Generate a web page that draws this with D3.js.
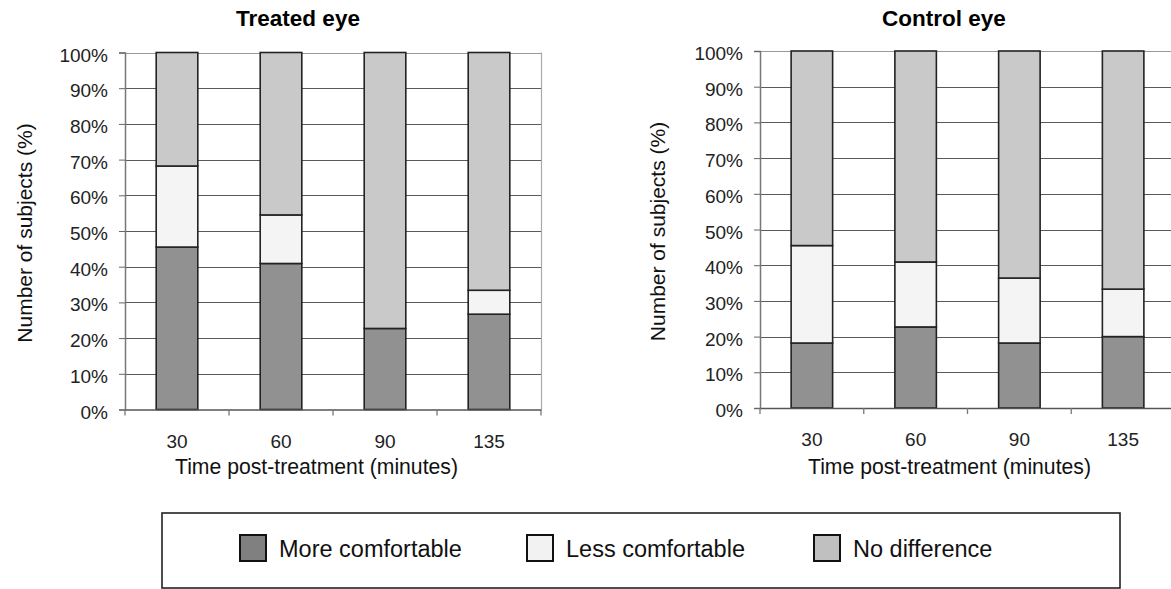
<!DOCTYPE html>
<html>
<head>
<meta charset="utf-8">
<script src="https://cdn.jsdelivr.net/npm/d3@7"></script>
<style>
  html, body { margin: 0; padding: 0; background: #fff; }
  svg { display: block; font-family: "Liberation Sans", Arial, sans-serif; }
</style>
</head>
<body>
<svg id="chart" width="1171" height="589"></svg>
<script>
// ---- data ----
const categories = ["30", "60", "90", "135"];
const seriesNames = ["More comfortable", "Less comfortable", "No difference"];
const treatedMore   = [45.5, 40.9, 22.7, 26.7];
const treatedLess   = [22.7, 13.6, 0.0, 6.7];
const treatedNoDiff = [31.8, 45.5, 77.3, 66.6];
const controlMore   = [18.2, 22.7, 18.2, 20.0];
const controlLess   = [27.3, 18.2, 18.2, 13.3];
const controlNoDiff = [54.5, 59.1, 63.6, 66.7];
const yTicks = [0, 10, 20, 30, 40, 50, 60, 70, 80, 90, 100];
const panelTitles = ["Treated eye", "Control eye"];
const xTitle = "Time post-treatment (minutes)";
const yTitle = "Number of subjects (%)";

const barColors = ["#919191", "#f4f4f4", "#c9c9c9"];
const legendColors = ["#808080", "#f2f2f2", "#c0c0c0"];

const svg = d3.select("#chart");

const panels = [
  { title: panelTitles[0], more: treatedMore, less: treatedLess, nod: treatedNoDiff,
    x0: 125, x1: 541, y0: 409.5, y1: 52.5, titleX: 298, yTitleX: 32, xTitleX: 175, rightBorder: true },
  { title: panelTitles[1], more: controlMore, less: controlLess, nod: controlNoDiff,
    x0: 760, x1: 1175, y0: 408, y1: 51, titleX: 944, yTitleX: 665, xTitleX: 808, rightBorder: false }
];

panels.forEach(p => {
  const rows = categories.map((c, i) => ({ cat: c, m: p.more[i], l: p.less[i], n: p.nod[i] }));
  const stack = d3.stack().keys(["m", "l", "n"])(rows);

  const x = d3.scaleBand().domain(categories).range([p.x0, p.x1]).paddingInner(0.6).paddingOuter(0.3);
  const y = d3.scaleLinear().domain([0, 100]).range([p.y0, p.y1]);

  const g = svg.append("g");

  // gridlines
  g.append("g").selectAll("line").data(yTicks.filter(d => d > 0)).join("line")
    .attr("x1", p.x0).attr("x2", p.x1)
    .attr("y1", d => Math.round(y(d)) + 0.5).attr("y2", d => Math.round(y(d)) + 0.5)
    .attr("stroke", d => d === 100 ? "#9a9a9a" : "#5a5a5a").attr("stroke-width", 1);

  if (p.rightBorder) {
    g.append("line").attr("x1", p.x1 + 0.5).attr("x2", p.x1 + 0.5)
      .attr("y1", y(100)).attr("y2", y(0)).attr("stroke", "#aaaaaa").attr("stroke-width", 1.2);
  }

  // y axis
  const yAxis = g.append("g").attr("transform", `translate(${p.x0},0)`)
    .call(d3.axisLeft(y).tickValues(yTicks).tickFormat(d => d + "%").tickSize(6).tickPadding(11));
  yAxis.select(".domain").attr("stroke", "#777").attr("stroke-width", 1.5);
  yAxis.selectAll(".tick line").attr("stroke", "#666");
  yAxis.selectAll(".tick text").attr("font-size", 19).attr("fill", "#222").attr("dy", "0.45em")
    .attr("font-family", "Liberation Sans, Arial, sans-serif");

  // bars
  g.append("g").selectAll("g").data(stack).join("g")
    .attr("fill", (d, i) => barColors[i])
    .selectAll("rect").data(d => d).join("rect")
    .attr("x", d => x(d.data.cat))
    .attr("width", x.bandwidth())
    .attr("y", d => y(d[1]))
    .attr("height", d => y(d[0]) - y(d[1]))
    .attr("stroke", "#222").attr("stroke-width", 1.6);

  // x axis
  const xAxis = g.append("g").attr("transform", `translate(0,${p.y0})`)
    .call(d3.axisBottom(x).tickSize(0).tickPadding(25));
  xAxis.select(".domain").attr("stroke", "#555").attr("stroke-width", 1.5);
  xAxis.selectAll(".tick text").attr("font-size", 19).attr("fill", "#222")
    .attr("font-family", "Liberation Sans, Arial, sans-serif");
  // boundary tick marks
  const bounds = d3.range(categories.length + 1).map(i => p.x0 + i * x.step());
  g.append("g").selectAll("line").data(bounds).join("line")
    .attr("x1", d => d).attr("x2", d => d)
    .attr("y1", p.y0).attr("y2", p.y0 + 6)
    .attr("stroke", "#777").attr("stroke-width", 1.3);

  // titles
  g.append("text").attr("x", p.titleX).attr("y", 26).attr("text-anchor", "middle")
    .attr("font-size", 22.5).attr("font-weight", "bold").attr("fill", "#000").text(p.title);
  g.append("text").attr("x", p.xTitleX).attr("y", 474).attr("font-size", 21.2)
    .attr("fill", "#111").text(xTitle);
  g.append("text").attr("transform", `translate(${p.yTitleX},${(p.y0 + p.y1) / 2 + 2}) rotate(-90)`)
    .attr("text-anchor", "middle").attr("font-size", 21).attr("fill", "#111").text(yTitle);
});

// legend
const lg = svg.append("g");
lg.append("rect").attr("x", 162).attr("y", 513).attr("width", 958).attr("height", 75)
  .attr("fill", "#fff").attr("stroke", "#222").attr("stroke-width", 1.6);
const legendX = [240, 527, 814];
seriesNames.forEach((name, i) => {
  lg.append("rect").attr("x", legendX[i]).attr("y", 535).attr("width", 26).attr("height", 26)
    .attr("fill", legendColors[i]).attr("stroke", "#111").attr("stroke-width", 2);
  lg.append("text").attr("x", legendX[i] + 39).attr("y", 557).attr("font-size", 23.5)
    .attr("fill", "#111").text(name);
});
</script>
</body>
</html>
